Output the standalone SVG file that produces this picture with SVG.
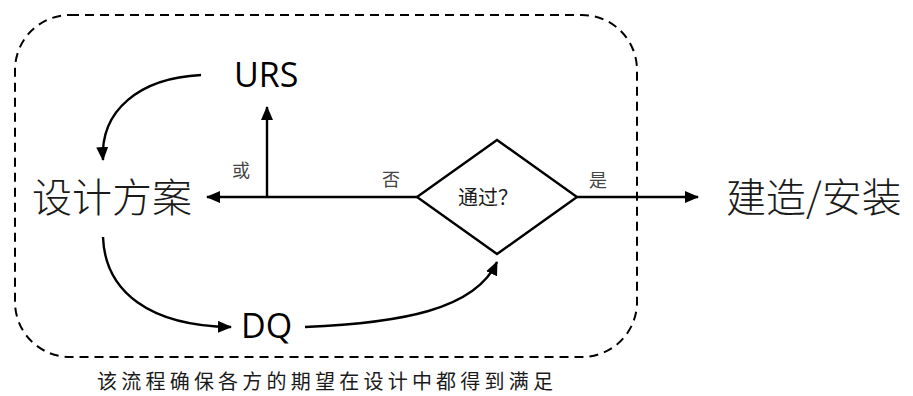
<svg xmlns="http://www.w3.org/2000/svg" width="913" height="396" viewBox="0 0 913 396">
<style>
.ln{fill:none;stroke:#000;stroke-width:2.4}
.cjk{font-family:"Noto Sans CJK SC","Noto Sans",sans-serif;fill:#1a1a1a}
.big{font-size:40px;font-weight:300}
.lab{font-size:18px;fill:#444}
.lat{font-family:"Open Sans","Liberation Sans",sans-serif;font-size:34px;fill:#000}
</style>
<defs>
<marker id="ah" markerWidth="14" markerHeight="12" refX="13" refY="6" orient="auto" markerUnits="userSpaceOnUse">
<path d="M0,0 L14,6 L0,12 Z" fill="#000"/>
</marker>
</defs>
<rect x="15" y="15" width="622" height="342" rx="55" ry="55" fill="none" stroke="#000" stroke-width="2" stroke-dasharray="9,6"/>
<g id="connectors">
<path class="ln" d="M417,197 L207,197" marker-end="url(#ah)"/>
<path class="ln" d="M267,197 L267,107" marker-end="url(#ah)"/>
<path class="ln" d="M201,75 C140,78 100,110 103,160" marker-end="url(#ah)"/>
<path class="ln" d="M103,237 C105,292 150,326 231,327" marker-end="url(#ah)"/>
<path class="ln" d="M305,327 C400,323 475,310 497,262" marker-end="url(#ah)"/>
<path class="ln" d="M577,197 L698,197" marker-end="url(#ah)"/>
<text class="cjk lab" x="232" y="177">或</text>
<text class="cjk lab" x="382" y="186">否</text>
<text class="cjk lab" x="589" y="187">是</text>
</g>
<g id="urs"><text class="lat" x="234" y="87">URS</text></g>
<g id="design"><text class="cjk big" x="32" y="212">设计方案</text></g>
<g id="dq"><text class="lat" x="241" y="338">DQ</text></g>
<g id="decision">
<path class="ln" d="M417,197 L497,140 L577,197 L497,254 Z" fill="#fff"/>
<text class="cjk" x="458" y="205" font-size="20" fill="#333">通过？</text>
</g>
<g id="build"><text class="cjk big" x="726" y="212">建造/安装</text></g>
<g id="caption"><text class="cjk" x="97" y="389" font-size="20" fill="#444" textLength="456" lengthAdjust="spacing">该流程确保各方的期望在设计中都得到满足</text></g>
</svg>
